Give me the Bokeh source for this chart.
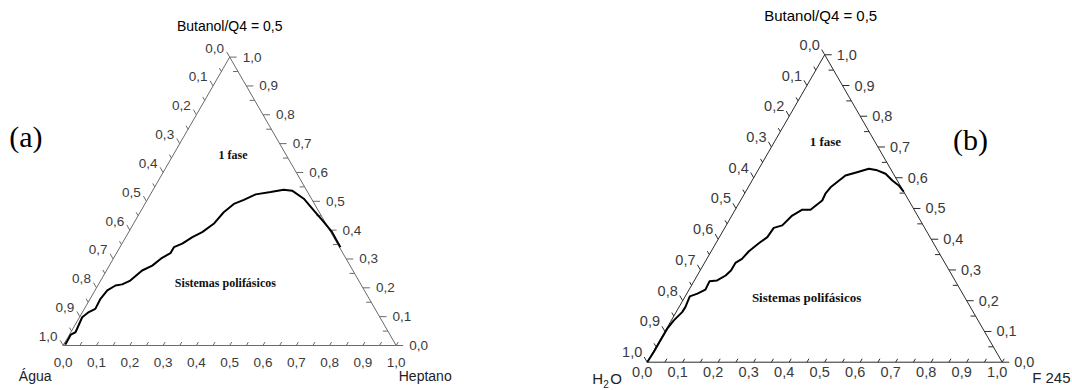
import numpy as np
from bokeh.plotting import figure
from bokeh.layouts import row
from bokeh.models import Range1d
from bokeh.core.properties import value
from bokeh.embed import file_html
from bokeh.resources import INLINE

# ---------------- data ----------------
# Panel (a): vertices Água (bottom-left), Heptano (bottom-right), Butanol/Q4 (top)
a_heptano = [0.005, 0.004, 0.014, 0.008, 0.019, 0.033, 0.031, 0.037, 0.053, 0.071,
             0.089, 0.107, 0.129, 0.145, 0.162, 0.162, 0.181, 0.200, 0.221, 0.241,
             0.251, 0.267, 0.290, 0.316, 0.357, 0.392, 0.419, 0.468, 0.519, 0.569,
             0.611, 0.662]
a_butanol = [0.003, 0.038, 0.046, 0.098, 0.116, 0.127, 0.162, 0.191, 0.208, 0.212,
             0.225, 0.260, 0.277, 0.304, 0.320, 0.341, 0.353, 0.376, 0.393, 0.422,
             0.462, 0.491, 0.505, 0.524, 0.532, 0.540, 0.537, 0.509, 0.468, 0.428,
             0.393, 0.341]

# Panel (b): vertices H2O (bottom-left), F 245 (bottom-right), Butanol/Q4 (top)
b_f245 = [0.000, 0.002, 0.002, 0.002, 0.007, 0.017, 0.018, 0.013, 0.030, 0.046,
          0.044, 0.064, 0.080, 0.087, 0.087, 0.099, 0.106, 0.121, 0.135, 0.138,
          0.158, 0.170, 0.189, 0.212, 0.230, 0.228, 0.232, 0.255, 0.282, 0.310,
          0.336, 0.365, 0.395, 0.421, 0.445]
b_butanol = [0.000, 0.033, 0.071, 0.109, 0.136, 0.163, 0.179, 0.214, 0.223, 0.236,
             0.263, 0.266, 0.282, 0.298, 0.323, 0.336, 0.361, 0.387, 0.407, 0.437,
             0.445, 0.477, 0.496, 0.496, 0.526, 0.548, 0.569, 0.607, 0.618, 0.629,
             0.624, 0.613, 0.591, 0.575, 0.555]

major_ticks = [0.0, 0.1, 0.2, 0.3, 0.4, 0.5, 0.6, 0.7, 0.8, 0.9, 1.0]
minor_ticks = [0.05, 0.15, 0.25, 0.35, 0.45, 0.55, 0.65, 0.75, 0.85, 0.95]
tick_labels = ["0,0", "0,1", "0,2", "0,3", "0,4", "0,5", "0,6", "0,7", "0,8", "0,9", "1,0"]

title_text = "Butanol/Q4 = 0,5"
phase_one = "1 fase"
phase_multi = "Sistemas polifásicos"

S3 = np.sqrt(3) / 2
SANS = value("Liberation Sans")
SERIF = value("Liberation Serif")


def tern(h, c):
    h = np.asarray(h, float)
    c = np.asarray(c, float)
    return h + c / 2, c * S3


def make_panel(h, c, unit, vx, vy, W, H, axis_color, fs, fs_title, title_off,
               bot_off, left_off, right_dx, left_name, right_name_off, right_name,
               letter, letter_xy, fase_xy, sist_xy, fs_phase, left_name_off):
    p = figure(width=W, height=H, output_backend="svg", toolbar_location=None,
               x_range=Range1d(-vx / unit, (W - vx) / unit),
               y_range=Range1d(-(H - vy) / unit, vy / unit),
               x_axis_location=None, y_axis_location=None, min_border=0)
    p.grid.visible = False
    p.outline_line_color = None
    p.background_fill_color = "white"
    p.border_fill_color = "white"

    # triangle frame
    p.line([0, 1, 0.5, 0], [0, 0, S3, 0], line_color=axis_color, line_width=1)

    u = 1.0 / unit
    maj = np.array(major_ticks)
    mnr = np.array(minor_ticks)
    allb = np.sort(np.concatenate([maj, mnr]))

    # bottom ticks (inward, along left-edge direction)
    bx = allb
    p.segment(bx, np.zeros_like(bx), bx + 4 * u * 0.5, np.zeros_like(bx) + 4 * u * 0.866,
              line_color=axis_color, line_width=1)
    # left ticks (outward)
    for vals, L in ((maj, 6), (mnr, 4)):
        lx = (1 - vals) / 2
        ly = (1 - vals) * S3
        p.segment(lx, ly, lx - L * u * 0.5, ly + L * u * 0.866,
                  line_color=axis_color, line_width=1)
    # right ticks: major outward, minor inward
    rx = 1 - maj / 2
    ry = maj * S3
    p.segment(rx, ry, rx + 7 * u, ry, line_color=axis_color, line_width=1)
    rxm = 1 - mnr / 2
    rym = mnr * S3
    p.segment(rxm, rym, rxm - 5 * u, rym, line_color=axis_color, line_width=1)

    lab_col = "#3a3a3a"
    # bottom labels
    p.text(maj, np.zeros_like(maj), text=tick_labels, x_offset=bot_off[0], y_offset=bot_off[1],
           text_align="center", text_baseline="middle", text_font=SANS,
           text_font_size=value(fs), text_color=lab_col)
    # left labels (0 at top, 1 at bottom)
    p.text((1 - maj) / 2, (1 - maj) * S3, text=tick_labels, x_offset=left_off[0],
           y_offset=left_off[1], text_align="center", text_baseline="middle",
           text_font=SANS, text_font_size=value(fs), text_color=lab_col)
    # right labels (0 at bottom, 1 at top)
    p.text(rx, ry, text=tick_labels, x_offset=right_dx, y_offset=0,
           text_align="left", text_baseline="middle", text_font=SANS,
           text_font_size=value(fs), text_color=lab_col)

    # title
    p.text([0.5], [S3], text=[title_text], x_offset=title_off[0], y_offset=title_off[1],
           text_align="center", text_baseline="middle", text_font=SANS,
           text_font_size=value(fs_title), text_color="black")

    # binodal curve
    x, y = tern(h, c)
    p.line(x, y, line_color="black", line_width=2, line_join="round")

    # region labels
    p.text([fase_xy[0]], [fase_xy[1]], text=[phase_one], text_align="center",
           text_baseline="middle", text_font=SERIF, text_font_style="bold",
           text_font_size=value(fs_phase), text_color="#111111")
    p.text([sist_xy[0]], [sist_xy[1]], text=[phase_multi], text_align="center",
           text_baseline="middle", text_font=SERIF, text_font_style="bold",
           text_font_size=value(fs_phase), text_color="#111111")

    # panel letter
    p.text([letter_xy[0]], [letter_xy[1]], text=[letter], text_align="center",
           text_baseline="middle", text_font=SERIF, text_font_size=value("30px"),
           text_color="black")

    # corner names
    if isinstance(left_name, str):
        p.text([0], [0], text=[left_name], x_offset=left_name_off[0], y_offset=left_name_off[1],
               text_align="center", text_baseline="middle", text_font=SANS,
               text_font_size=value(fs_title), text_color="#222222")
    else:
        # H2O with subscript
        p.text([0], [0], text=["H"], x_offset=left_name_off[0], y_offset=left_name_off[1],
               text_align="left", text_baseline="middle", text_font=SANS,
               text_font_size=value(fs_title), text_color="#222222")
        p.text([0], [0], text=["2"], x_offset=left_name_off[0] + 11, y_offset=left_name_off[1] + 6,
               text_align="left", text_baseline="middle", text_font=SANS,
               text_font_size=value("10px"), text_color="#222222")
        p.text([0], [0], text=["O"], x_offset=left_name_off[0] + 18, y_offset=left_name_off[1],
               text_align="left", text_baseline="middle", text_font=SANS,
               text_font_size=value(fs_title), text_color="#222222")
    p.text([1], [0], text=[right_name], x_offset=right_name_off[0], y_offset=right_name_off[1],
           text_align=right_name_off[2], text_baseline="middle", text_font=SANS,
           text_font_size=value(fs_title), text_color="#222222")
    return p


pa = make_panel(a_heptano, a_butanol, unit=333, vx=62.7, vy=345, W=536, H=390,
                axis_color="#6a6a6a", fs="13.5px", fs_title="14px", title_off=(0, -31),
                bot_off=(0, 17), left_off=(-15, -9), right_dx=13,
                left_name="Água", left_name_off=(-28, 30),
                right_name="Heptano", right_name_off=(29, 30, "center"),
                letter="(a)", letter_xy=(-0.112, 0.629),
                fase_xy=(0.510, 0.573), sist_xy=(0.487, 0.187), fs_phase="12px")

pb = make_panel(b_f245, b_butanol, unit=355, vx=110.7, vy=361.7, W=536, H=390,
                axis_color="#2a2a2a", fs="14.5px", fs_title="15px", title_off=(-4, -39),
                bot_off=(-5, 10), left_off=(-15, -10), right_dx=12,
                left_name=("H", "2", "O"), left_name_off=(-55, 16),
                right_name="F 245", right_name_off=(30, 15, "left"),
                letter="(b)", letter_xy=(0.911, 0.627),
                fase_xy=(0.502, 0.622), sist_xy=(0.449, 0.181), fs_phase="13px")

layout = row(pa, pb, spacing=0)
open("out.html", "w").write(file_html(layout, INLINE))
